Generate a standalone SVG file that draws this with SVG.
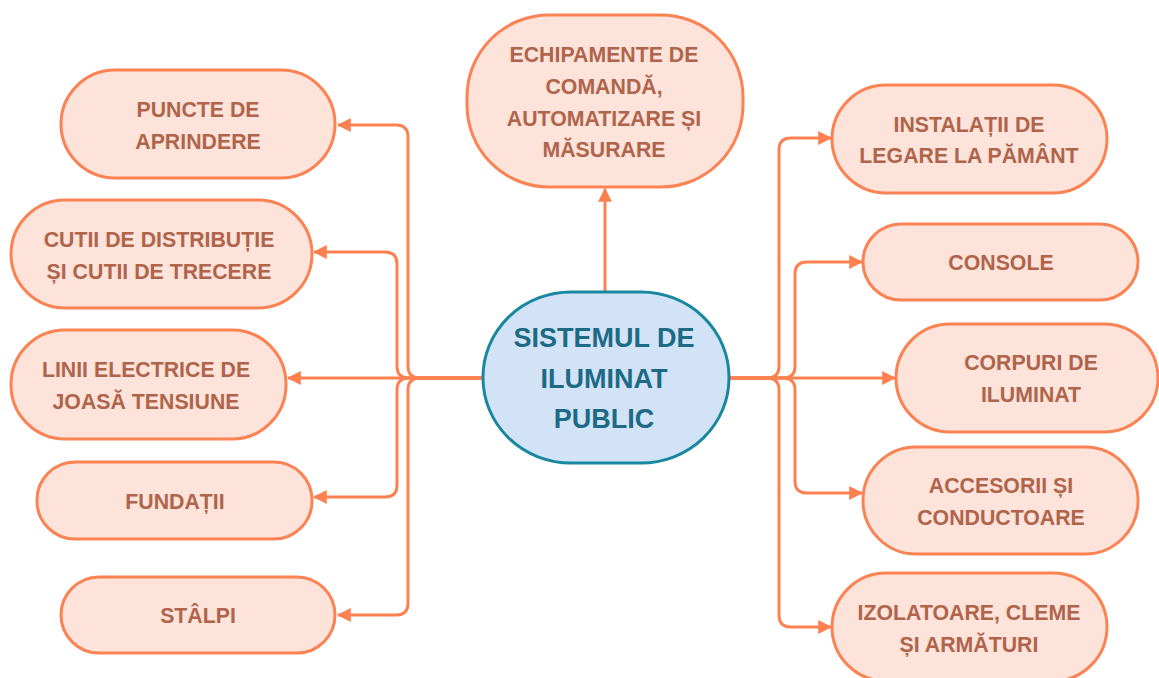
<svg xmlns="http://www.w3.org/2000/svg" width="1159" height="678" viewBox="0 0 1159 678">
<defs>
<style>
.n rect{fill:#fde3d9;stroke:#fb8253;stroke-width:3}
.n text{font-family:"Liberation Sans",Arial,sans-serif;font-weight:bold;font-size:21.3px;fill:#b0644b;text-anchor:middle}
.c rect{fill:#d2e3f8;stroke:#18879f;stroke-width:3}
.c text{font-family:"Liberation Sans",Arial,sans-serif;font-weight:bold;font-size:27px;fill:#1d6a85;text-anchor:middle}
.e path{fill:none;stroke:#fd8150;stroke-width:3}
</style>
<marker id="ah" viewBox="0 0 12 12" refX="11" refY="6" markerWidth="14" markerHeight="14" orient="auto" markerUnits="userSpaceOnUse">
<path d="M0,0 L12,6 L0,12 z" fill="#fd8150"/>
</marker>
</defs>
<rect width="1159" height="678" fill="#ffffff"/>
<g id="connectors" class="e">
<path marker-end="url(#ah)" d="M605 292 V189"/>
<path marker-end="url(#ah)" d="M483 378 H420 Q408 378 408 366 V137 Q408 125 396 125 H338"/>
<path marker-end="url(#ah)" d="M483 378 H409 Q397 378 397 366 V264 Q397 252 385 252 H314"/>
<path marker-end="url(#ah)" d="M483 378 H288"/>
<path marker-end="url(#ah)" d="M483 378 H409 Q397 378 397 390 V485 Q397 497 385 497 H314"/>
<path marker-end="url(#ah)" d="M483 378 H420 Q408 378 408 390 V603 Q408 615 396 615 H338"/>
<path marker-end="url(#ah)" d="M729 378 H767 Q779 378 779 366 V150 Q779 138 791 138 H831"/>
<path marker-end="url(#ah)" d="M729 378 H783 Q795 378 795 366 V274 Q795 262 807 262 H862"/>
<path marker-end="url(#ah)" d="M729 378 H895"/>
<path marker-end="url(#ah)" d="M729 378 H783 Q795 378 795 390 V481 Q795 493 807 493 H862"/>
<path marker-end="url(#ah)" d="M729 378 H767 Q779 378 779 390 V615 Q779 627 791 627 H831"/>
</g>
<g id="center" class="c">
<rect x="483" y="292" width="246" height="171" rx="88" ry="85"/>
<text x="604" y="347">SISTEMUL DE</text>
<text x="604" y="388">ILUMINAT</text>
<text x="604" y="428">PUBLIC</text>
</g>
<g id="echipamente" class="n">
<rect x="467" y="15" width="276" height="172" rx="82" ry="82"/>
<text x="604" y="62">ECHIPAMENTE DE</text>
<text x="604" y="94">COMANDĂ,</text>
<text x="604" y="126">AUTOMATIZARE ȘI</text>
<text x="604" y="157">MĂSURARE</text>
</g>
<g id="puncte" class="n">
<rect x="61" y="70" width="274" height="108" rx="54" ry="54"/>
<text x="198" y="117">PUNCTE DE</text>
<text x="198" y="149">APRINDERE</text>
</g>
<g id="cutii" class="n">
<rect x="11" y="200" width="301" height="108" rx="54" ry="54"/>
<text x="159" y="247">CUTII DE DISTRIBUȚIE</text>
<text x="159" y="279">ȘI CUTII DE TRECERE</text>
</g>
<g id="linii" class="n">
<rect x="11" y="330" width="275" height="109" rx="54" ry="54"/>
<text x="146" y="377">LINII ELECTRICE DE</text>
<text x="146" y="409">JOASĂ TENSIUNE</text>
</g>
<g id="fundatii" class="n">
<rect x="37" y="462" width="275" height="77" rx="38" ry="38"/>
<text x="175" y="509">FUNDAȚII</text>
</g>
<g id="stalpi" class="n">
<rect x="61" y="577" width="274" height="76" rx="38" ry="38"/>
<text x="198" y="623">STÂLPI</text>
</g>
<g id="instalatii" class="n">
<rect x="832" y="85" width="275" height="108" rx="54" ry="54"/>
<text x="969" y="132">INSTALAȚII DE</text>
<text x="969" y="163">LEGARE LA PĂMÂNT</text>
</g>
<g id="console" class="n">
<rect x="863" y="224" width="275" height="76" rx="38" ry="38"/>
<text x="1001" y="270">CONSOLE</text>
</g>
<g id="corpuri" class="n">
<rect x="896" y="324" width="262" height="108" rx="54" ry="54"/>
<text x="1031" y="370">CORPURI DE</text>
<text x="1031" y="402">ILUMINAT</text>
</g>
<g id="accesorii" class="n">
<rect x="863" y="447" width="275" height="107" rx="53" ry="53"/>
<text x="1001" y="493">ACCESORII ȘI</text>
<text x="1001" y="525">CONDUCTOARE</text>
</g>
<g id="izolatoare" class="n">
<rect x="832" y="573" width="275" height="108" rx="54" ry="54"/>
<text x="969" y="620">IZOLATOARE, CLEME</text>
<text x="969" y="652">ȘI ARMĂTURI</text>
</g>
</svg>
